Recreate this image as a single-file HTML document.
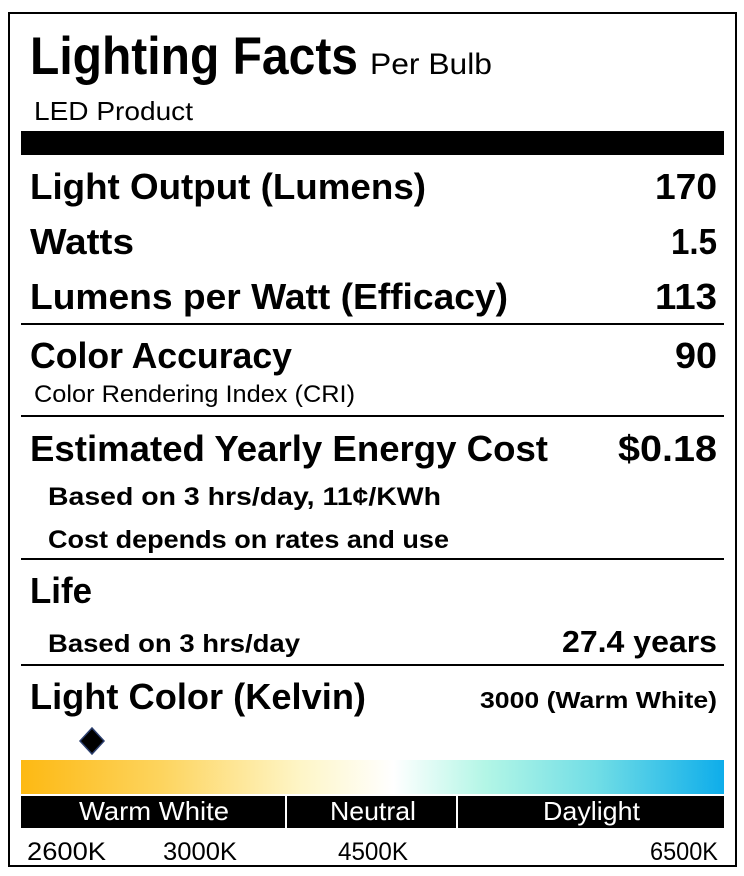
<!DOCTYPE html>
<html><head><meta charset="utf-8"><style>html,body{margin:0;padding:0;background:#fff}svg{display:block}</style></head>
<body>
<svg width="744" height="876" viewBox="0 0 744 876" xmlns="http://www.w3.org/2000/svg" font-family="Liberation Sans, sans-serif">
<defs>
<linearGradient id="g" x1="0" x2="1" y1="0" y2="0">
<stop offset="0" stop-color="#FDB913"/>
<stop offset="0.2" stop-color="#FDD45E"/>
<stop offset="0.4" stop-color="#FEF6C8"/>
<stop offset="0.53" stop-color="#FFFFFF"/>
<stop offset="0.66" stop-color="#B3F6E6"/>
<stop offset="0.82" stop-color="#70DDE6"/>
<stop offset="1" stop-color="#0EADEA"/>
</linearGradient>
</defs>
<rect x="9" y="13" width="727" height="853" fill="none" stroke="#000" stroke-width="2"/>
<text x="30" y="74" font-size="53" font-weight="bold" textLength="328" lengthAdjust="spacingAndGlyphs">Lighting Facts</text>
<text x="370" y="74" font-size="30" textLength="122" lengthAdjust="spacingAndGlyphs">Per Bulb</text>
<text x="34" y="120" font-size="26" textLength="159" lengthAdjust="spacingAndGlyphs">LED Product</text>
<rect x="21" y="131" width="703" height="24" fill="#000"/>
<g font-weight="bold" font-size="36">
<text x="30" y="199" textLength="396" lengthAdjust="spacingAndGlyphs">Light Output (Lumens)</text>
<text x="717" y="199" text-anchor="end" textLength="62" lengthAdjust="spacingAndGlyphs">170</text>
<text x="30" y="254" textLength="104" lengthAdjust="spacingAndGlyphs">Watts</text>
<text x="717" y="254" text-anchor="end" textLength="46" lengthAdjust="spacingAndGlyphs">1.5</text>
<text x="30" y="309" textLength="478" lengthAdjust="spacingAndGlyphs">Lumens per Watt (Efficacy)</text>
<text x="717" y="309" text-anchor="end" textLength="62" lengthAdjust="spacingAndGlyphs">113</text>
<text x="30" y="368" textLength="262" lengthAdjust="spacingAndGlyphs">Color Accuracy</text>
<text x="717" y="368" text-anchor="end" textLength="42" lengthAdjust="spacingAndGlyphs">90</text>
<text x="30" y="461" textLength="518" lengthAdjust="spacingAndGlyphs">Estimated Yearly Energy Cost</text>
<text x="717" y="461" text-anchor="end" textLength="99" lengthAdjust="spacingAndGlyphs">$0.18</text>
<text x="30" y="603" textLength="62" lengthAdjust="spacingAndGlyphs">Life</text>
<text x="30" y="709" textLength="336" lengthAdjust="spacingAndGlyphs">Light Color (Kelvin)</text>
</g>
<rect x="21" y="323" width="703" height="2" fill="#000"/>
<rect x="21" y="415" width="703" height="2" fill="#000"/>
<rect x="21" y="558" width="703" height="2" fill="#000"/>
<rect x="21" y="664" width="703" height="2" fill="#000"/>
<text x="34" y="402" font-size="24" textLength="321" lengthAdjust="spacingAndGlyphs">Color Rendering Index (CRI)</text>
<g font-weight="bold" font-size="25">
<text x="48" y="505" textLength="393" lengthAdjust="spacingAndGlyphs">Based on 3 hrs/day, 11¢/KWh</text>
<text x="48" y="548" textLength="401" lengthAdjust="spacingAndGlyphs">Cost depends on rates and use</text>
<text x="48" y="652" textLength="252" lengthAdjust="spacingAndGlyphs">Based on 3 hrs/day</text>
<text x="717" y="652" font-size="31" text-anchor="end" textLength="155" lengthAdjust="spacingAndGlyphs">27.4 years</text>
<text x="717" y="708" font-size="23" text-anchor="end" textLength="237" lengthAdjust="spacingAndGlyphs">3000 (Warm White)</text>
</g>
<polygon points="92,728 104,741 92,754 80,741" fill="#000" stroke="#2c3f6e" stroke-width="1.5"/>
<rect x="21" y="760" width="703" height="34" fill="url(#g)"/>
<rect x="21" y="796" width="703" height="32" fill="#000"/>
<rect x="285" y="796" width="2" height="32" fill="#fff"/>
<rect x="456" y="796" width="2" height="32" fill="#fff"/>
<g fill="#fff" font-size="26">
<text x="79" y="820" textLength="150" lengthAdjust="spacingAndGlyphs">Warm White</text>
<text x="330" y="820" textLength="86" lengthAdjust="spacingAndGlyphs">Neutral</text>
<text x="543" y="820" textLength="97" lengthAdjust="spacingAndGlyphs">Daylight</text>
</g>
<g font-size="25">
<text x="27" y="860" textLength="79" lengthAdjust="spacingAndGlyphs">2600K</text>
<text x="163" y="860" textLength="74" lengthAdjust="spacingAndGlyphs">3000K</text>
<text x="338" y="860" textLength="70" lengthAdjust="spacingAndGlyphs">4500K</text>
<text x="650" y="860" textLength="68" lengthAdjust="spacingAndGlyphs">6500K</text>
</g>
</svg>
</body></html>
